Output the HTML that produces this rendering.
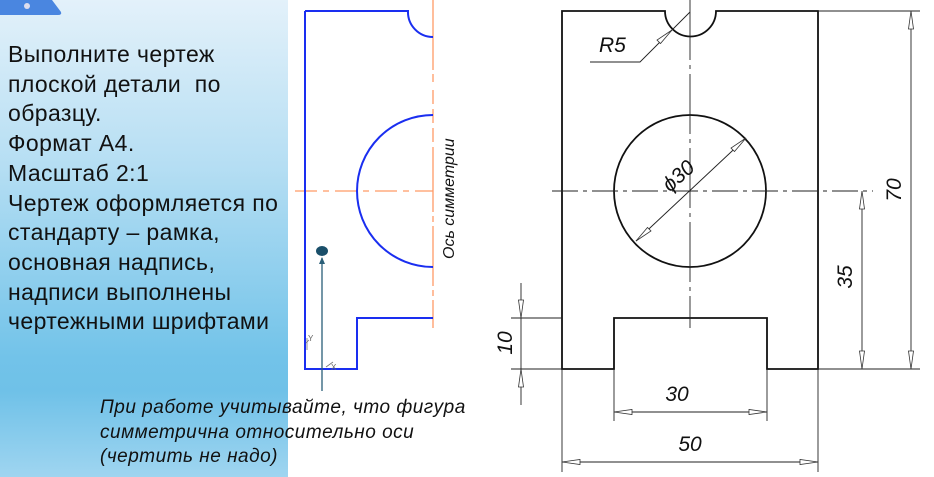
<!DOCTYPE html>
<html><head><meta charset="utf-8"><style>
body{margin:0;width:934px;height:477px;background:#fff;position:relative;overflow:hidden;font-family:"Liberation Sans",sans-serif}
#panel{position:absolute;left:0;top:0;width:288px;height:477px;background:linear-gradient(to bottom,#e3f1fa 0%,#b5def3 35%,#72c3e9 75%,#6fc1e8 82%,#9fd5f0 100%)}
#txt{position:absolute;left:8px;top:40px;font-size:23px;letter-spacing:0.4px;line-height:29.7px;color:#111;white-space:nowrap}
#it{position:absolute;left:100px;top:396px;font-size:19px;letter-spacing:0.5px;line-height:24.5px;font-style:italic;color:#111;white-space:nowrap}
svg{position:absolute;left:0;top:0}
</style></head><body>
<div id="panel"></div>
<svg width="934" height="477">
<path d="M0 0 H52 L61 12 Q62 15 58 15 H0 Z" fill="#4a86e0"/>
<circle cx="27" cy="6" r="3" fill="#dde"/>
</svg>
<div id="txt">Выполните чертеж<br>плоской детали&nbsp; по<br>образцу.<br>Формат А4.<br>Масштаб 2:1<br>Чертеж оформляется по<br>стандарту – рамка,<br>основная надпись,<br>надписи выполнены<br>чертежными шрифтами</div>
<svg width="934" height="477" font-family="Liberation Sans,sans-serif">
<g stroke="#ff9a66" stroke-width="1.3" fill="none">
<line x1="433" y1="0" x2="433" y2="70"/>
<line x1="433" y1="74" x2="433" y2="82" />
<line x1="433" y1="90" x2="433" y2="152" stroke-dasharray="14 5"/>
<line x1="433" y1="152" x2="433" y2="328" stroke-dasharray="60 4 6 4"/>
<line x1="295" y1="191" x2="433" y2="191" stroke-dasharray="22 6 6 6"/>
</g>
<path d="M305 11 H408 A25 25 0 0 0 433 37 M433 115 A76 76 0 0 0 433 267 M433 318 H357 V369 H305 V11" stroke="#1a2ef0" stroke-width="2" fill="none"/>
<ellipse cx="322" cy="251" rx="6" ry="5" fill="#1a4f6a"/>
<line x1="322" y1="258" x2="322" y2="391" stroke="#2a5f78" stroke-width="1.3"/>
<path d="M319 264 L322 257 L325 264" fill="#2a5f78"/>
<g stroke="#777" stroke-width="0.8" fill="none"><path d="M307 338 V350 M306 343 L309 340 M326 367 L333 362"/></g>
<text x="308" y="341" font-size="8" fill="#666">Y</text><text x="331" y="370" font-size="8" fill="#666">X</text>
<text transform="translate(454,259) rotate(-90)" font-size="16" font-style="italic" fill="#111">Ось симметрии</text>
<g stroke="#111" stroke-width="1.8" fill="none">
<path d="M562 11 H665 A25.5 25.5 0 0 0 716 11 H818 V369 H767 V318 H614 V369 H562 Z"/>
<circle cx="690" cy="191" r="76"/>
</g>
<g stroke="#222" stroke-width="0.9" fill="none">
<line x1="552" y1="191" x2="873" y2="191" stroke-dasharray="26 5 4 5"/>
<line x1="690" y1="0" x2="690" y2="328" stroke-dasharray="60 5 4 5"/>
<line x1="818" y1="11" x2="920" y2="11"/><line x1="818" y1="369" x2="920" y2="369"/>
<line x1="911" y1="11" x2="911" y2="369"/>
<line x1="862" y1="191" x2="862" y2="369"/>
<line x1="511" y1="318" x2="562" y2="318"/><line x1="511" y1="369" x2="562" y2="369"/>
<line x1="521" y1="283" x2="521" y2="405"/>
<line x1="614" y1="369" x2="614" y2="421"/><line x1="767" y1="369" x2="767" y2="421"/>
<line x1="614" y1="412" x2="767" y2="412"/>
<line x1="562" y1="369" x2="562" y2="472"/><line x1="818" y1="369" x2="818" y2="472"/>
<line x1="562" y1="462" x2="818" y2="462"/>
<line x1="636" y1="241" x2="746" y2="138"/>
<path d="M690 12 L640 62 H590"/>
</g>
<g stroke="#333" stroke-width="0.8" fill="#fff">
<path d="M911 11 l-2.5 18 h5 Z M911 369 l-2.5 -18 h5 Z"/>
<path d="M862 191 l-2.5 18 h5 Z M862 369 l-2.5 -18 h5 Z"/>
<path d="M521 318 l-2.5 -18 h5 Z M521 369 l-2.5 18 h5 Z"/>
<path d="M614 412 l18 -2.5 v5 Z M767 412 l-18 -2.5 v5 Z"/>
<path d="M562 462 l18 -2.5 v5 Z M818 462 l-18 -2.5 v5 Z"/>
<path d="M746 138 l-15 10 l3.5 3.5 Z M636 241 l15 -10 l-3.5 -3.5 Z"/>
<path d="M672 30 l-15 10 l3.5 3.5 Z"/>
</g>
<g font-size="21" font-style="italic" fill="#111">
<text x="599" y="52">R5</text>
<text x="677" y="401" text-anchor="middle">30</text>
<text x="690" y="451" text-anchor="middle">50</text>
<text transform="translate(901,190) rotate(-90)" text-anchor="middle">70</text>
<text transform="translate(852,277) rotate(-90)" text-anchor="middle">35</text>
<text transform="translate(512,343) rotate(-90)" text-anchor="middle">10</text>
<text transform="translate(683,181) rotate(-42)" text-anchor="middle">ϕ30</text>
</g>
</svg>
<div id="it">При работе учитывайте, что фигура<br>симметрична относительно оси<br>(чертить не надо)</div>
</body></html>
